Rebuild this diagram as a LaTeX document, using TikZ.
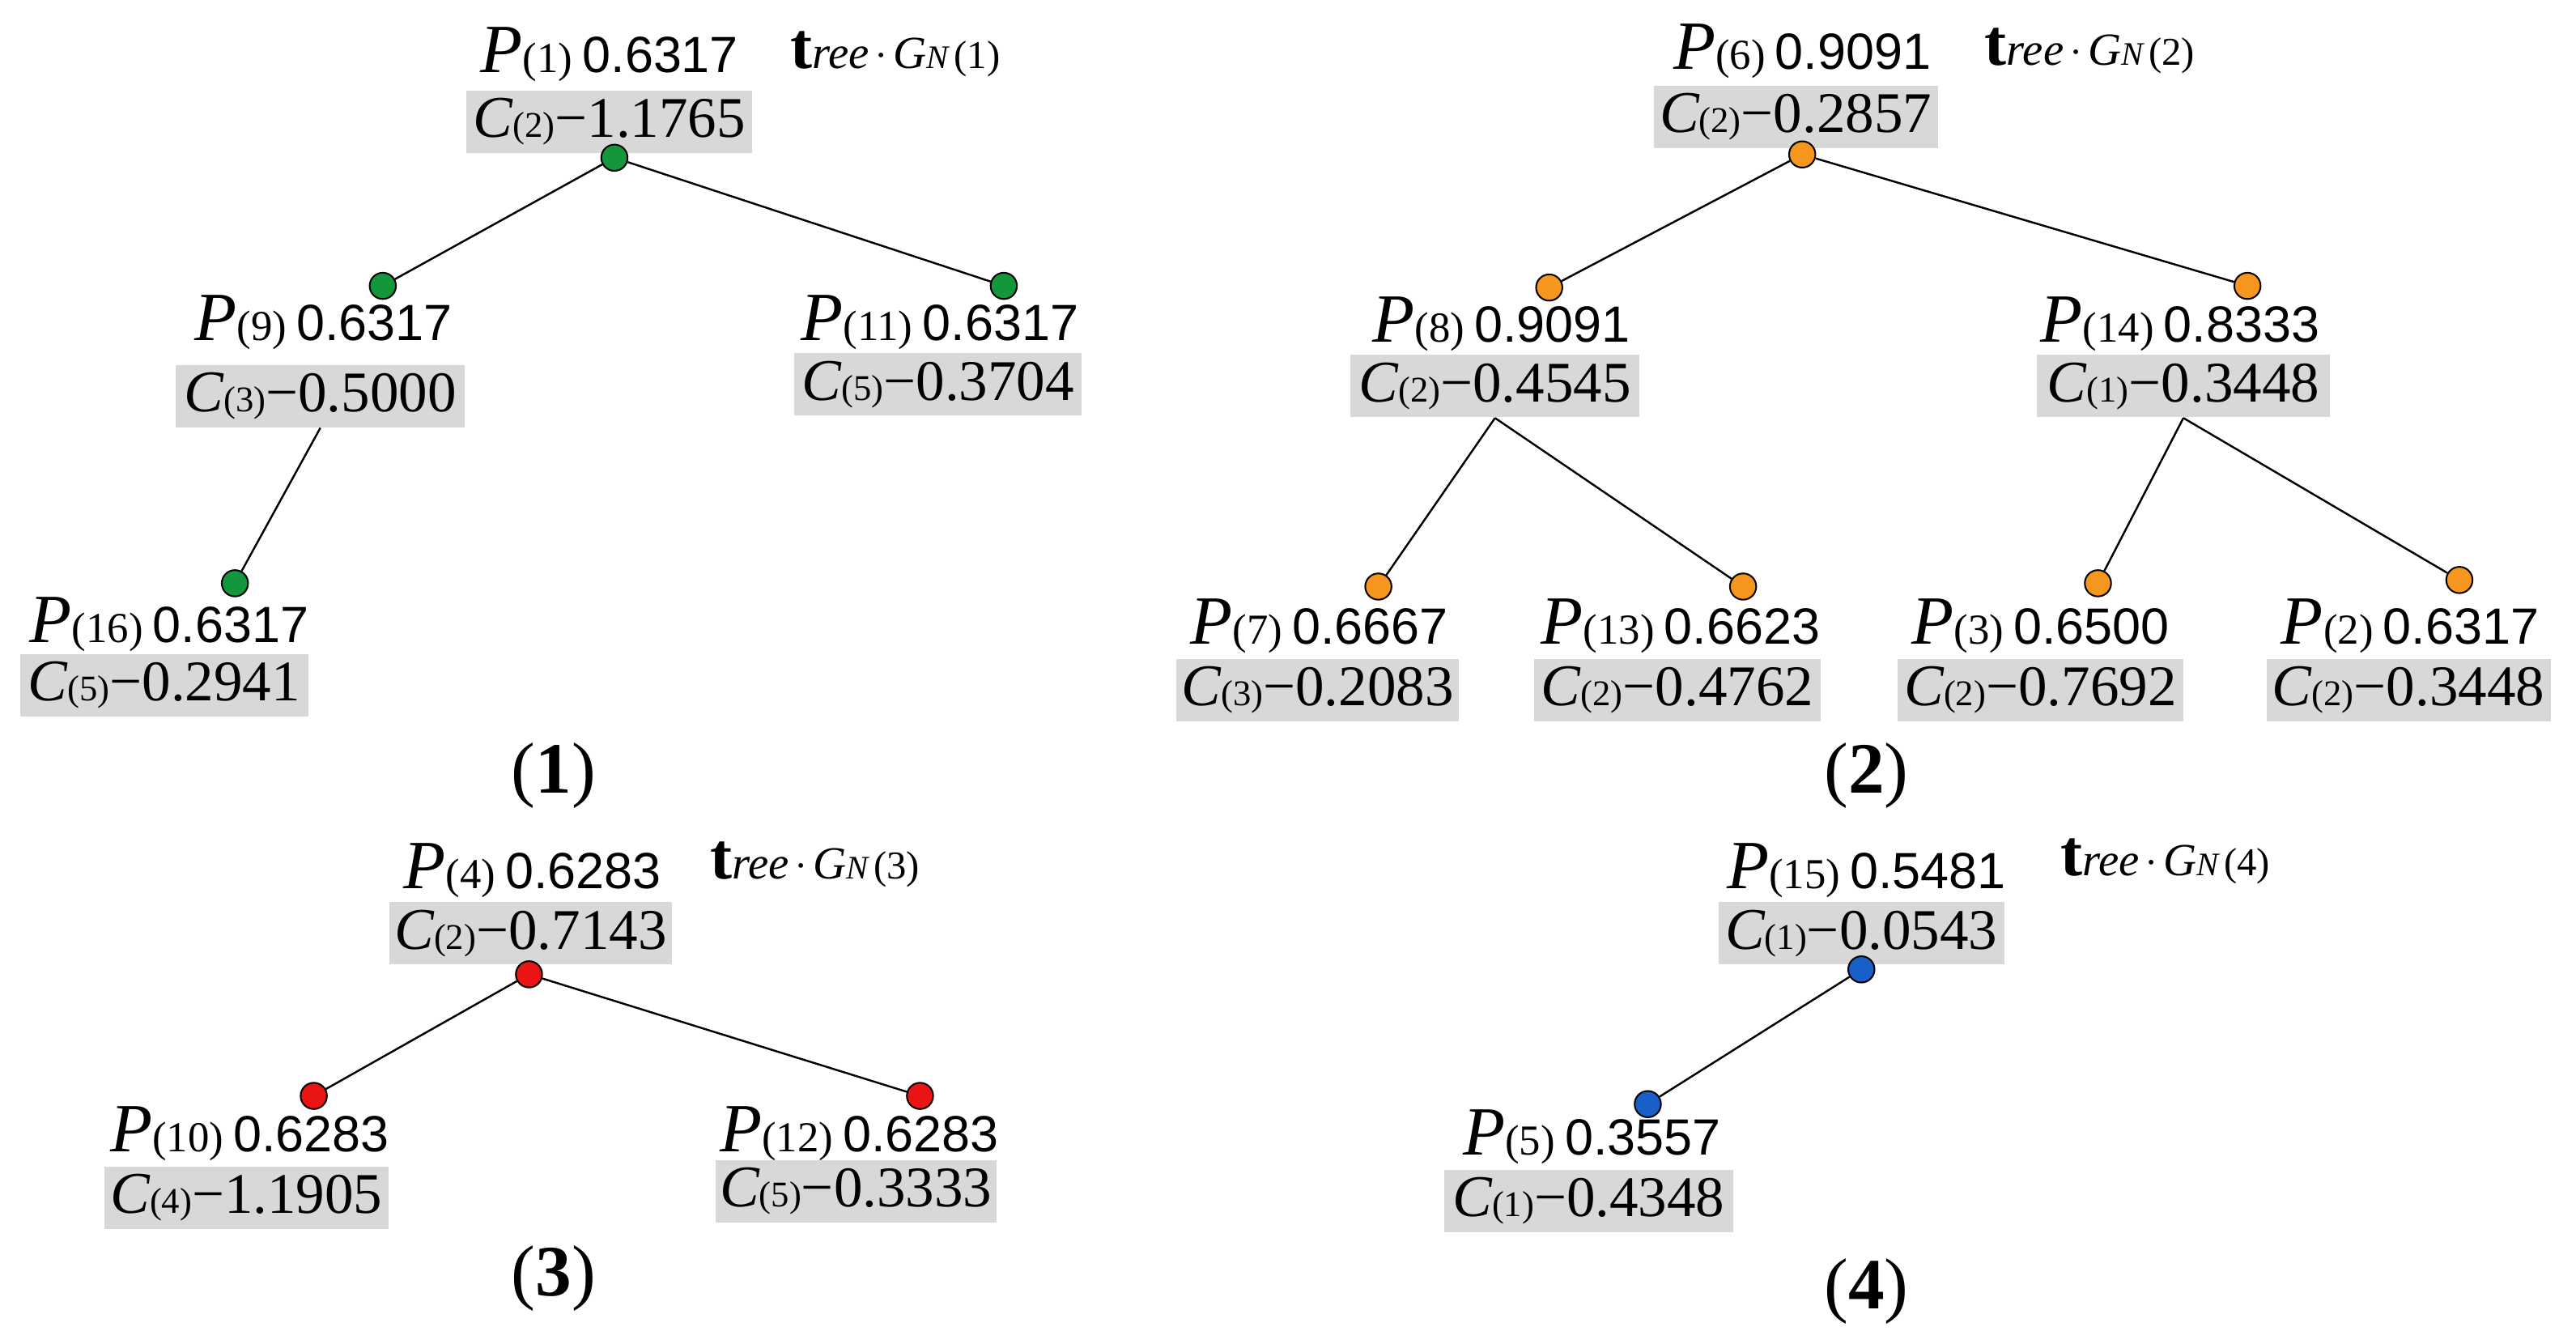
\documentclass[tikz,border=0pt]{standalone}
\usepackage{fontspec}
\setmainfont{Liberation Serif}
\newfontfamily\arl{Liberation Sans}
\newcommand\myP[2]{{\fontsize{21}{21}\selectfont\itshape P}{\fontsize{13}{13}\selectfont(#1)}\hspace{3pt}{\arl\fontsize{15.5}{16}\selectfont #2}}
\newcommand\myC[2]{{\fontsize{18}{18}\selectfont\itshape C}{\fontsize{11}{11}\selectfont(#1)}{\fontsize{17.5}{18}\selectfont −#2}}
\newcommand\myT[1]{{\fontsize{20}{20}\selectfont\bfseries t}{\fontsize{14}{14}\selectfont\itshape ree}\,{\fontsize{12}{12}\selectfont ·}\,{\fontsize{14}{14}\selectfont\itshape G}{\fontsize{10}{10}\selectfont\itshape N}\,{\fontsize{12}{12}\selectfont(#1)}}
\definecolor{gbox}{RGB}{216,216,216}
\definecolor{cg}{RGB}{20,150,60}
\definecolor{co}{RGB}{245,150,30}
\definecolor{cr}{RGB}{235,20,20}
\definecolor{cb}{RGB}{25,95,200}
\tikzset{
 box/.style={fill=gbox,inner sep=0pt,minimum height=19pt,minimum width=#1*0.5pt},
 pl/.style={inner sep=0pt},
 dot/.style={circle,draw=black,line width=0.5pt,minimum size=8pt,inner sep=0pt,fill=#1},
 edge/.style={line width=0.6pt},
 num/.style={inner sep=0pt,font=\fontsize{22}{22}\selectfont},
}
\begin{document}
\begin{tikzpicture}[x=0.5pt,y=-0.5pt]
\useasboundingbox (0,0) rectangle (1568,818);
% Tree 1
\node[pl] (p1) at (371,33) {\myP{1}{0.6317}};
\node[box=174] (c1) at (371,74) {\myC{2}{1.1765}};
\node[pl] (t1) at (545,33) {\myT{1}};
\node[dot=cg] (d1) at (374,96) {};
\node[dot=cg] (d9) at (233,174) {};
\node[dot=cg] (d11) at (611,174) {};
\node[pl] (p9) at (197,196) {\myP{9}{0.6317}};
\node[box=176] (c9) at (195,241) {\myC{3}{0.5000}};
\node[pl] (p11) at (572,196) {\myP{11}{0.6317}};
\node[box=175] (c11) at (571,234) {\myC{5}{0.3704}};
\node[dot=cg] (d16) at (143,355) {};
\node[pl] (p16) at (103,380) {\myP{16}{0.6317}};
\node[box=175] (c16) at (100,417) {\myC{5}{0.2941}};
\draw[edge] (d1) -- (d9);
\draw[edge] (d1) -- (d11);
\draw[edge] (c9.south) -- (d16);
\node[num] (l1) at (337,472) {(\textbf{1})};
% Tree 2
\node[pl] (p6) at (1097,31) {\myP{6}{0.9091}};
\node[box=173] (c6) at (1093,71) {\myC{2}{0.2857}};
\node[pl] (t2) at (1272,31) {\myT{2}};
\node[dot=co] (d6) at (1097,94) {};
\node[dot=co] (d8) at (943,175) {};
\node[dot=co] (d14) at (1368,174) {};
\node[pl] (p8) at (914,197) {\myP{8}{0.9091}};
\node[box=176] (c8) at (910,235) {\myC{2}{0.4545}};
\node[pl] (p14) at (1327,197) {\myP{14}{0.8333}};
\node[box=178] (c14) at (1329,235) {\myC{1}{0.3448}};
\node[dot=co] (d7) at (839,357) {};
\node[dot=co] (d13) at (1061,357) {};
\node[dot=co] (d3) at (1277,355) {};
\node[dot=co] (d2) at (1497,353) {};
\node[pl] (p7) at (803,381) {\myP{7}{0.6667}};
\node[box=172] (c7) at (802,420) {\myC{3}{0.2083}};
\node[pl] (p13) at (1023,381) {\myP{13}{0.6623}};
\node[box=174] (c13) at (1021,420) {\myC{2}{0.4762}};
\node[pl] (p3) at (1242,381) {\myP{3}{0.6500}};
\node[box=174] (c3) at (1242,420) {\myC{2}{0.7692}};
\node[pl] (p2) at (1467,381) {\myP{2}{0.6317}};
\node[box=173] (c2) at (1466,420) {\myC{2}{0.3448}};
\draw[edge] (d6) -- (d8);
\draw[edge] (d6) -- (d14);
\draw[edge] (c8.south) -- (d7);
\draw[edge] (c8.south) -- (d13);
\draw[edge] (c14.south) -- (d3);
\draw[edge] (c14.south) -- (d2);
\node[num] (l2) at (1136,472) {(\textbf{2})};
% Tree 3
\node[pl] (p4) at (324,530) {\myP{4}{0.6283}};
\node[box=172] (c4) at (323,568) {\myC{2}{0.7143}};
\node[pl] (t3) at (496,526) {\myT{3}};
\node[dot=cr] (d4) at (322,593) {};
\node[dot=cr] (d10) at (191,667) {};
\node[dot=cr] (d12) at (560,667) {};
\node[pl] (p10) at (152,690) {\myP{10}{0.6283}};
\node[box=173] (c10) at (150,729) {\myC{4}{1.1905}};
\node[pl] (p12) at (523,690) {\myP{12}{0.6283}};
\node[box=171] (c12) at (521,725) {\myC{5}{0.3333}};
\draw[edge] (d4) -- (d10);
\draw[edge] (d4) -- (d12);
\node[num] (l3) at (337,778) {(\textbf{3})};
% Tree 4
\node[pl] (p15) at (1136,530) {\myP{15}{0.5481}};
\node[box=174] (c15) at (1133,568) {\myC{1}{0.0543}};
\node[pl] (t4) at (1318,524) {\myT{4}};
\node[dot=cb] (d15) at (1133,590) {};
\node[dot=cb] (d5) at (1003,672) {};
\node[pl] (p5) at (969,692) {\myP{5}{0.3557}};
\node[box=176] (c5) at (967,731) {\myC{1}{0.4348}};
\draw[edge] (d15) -- (d5);
\node[num] (l4) at (1136,786) {(\textbf{4})};
\end{tikzpicture}
\end{document}
